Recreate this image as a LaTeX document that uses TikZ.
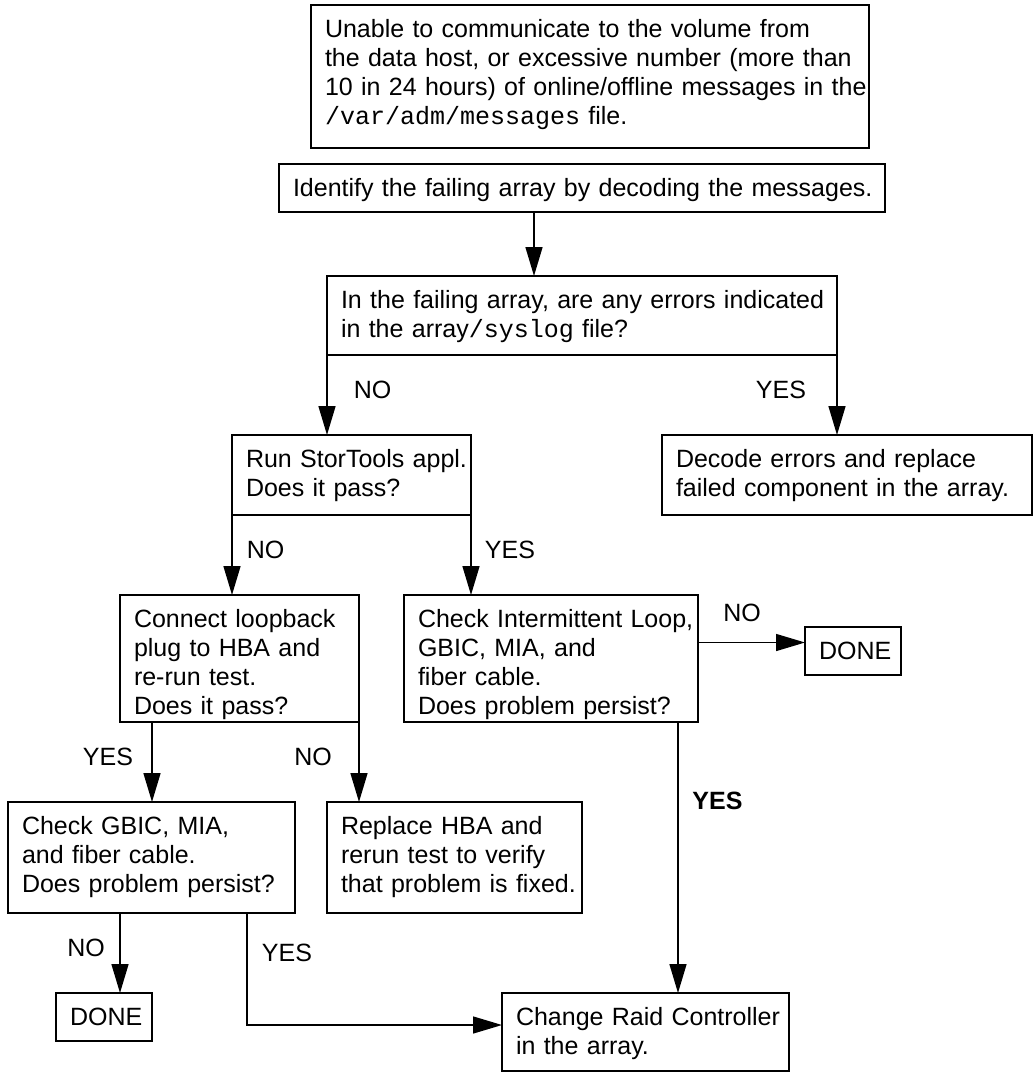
\documentclass[tikz,border=0pt]{standalone}
\usepackage{fontspec}
\setmainfont{Liberation Sans}
\setmonofont{Liberation Mono}
\usetikzlibrary{arrows.meta}

\begin{document}
\begin{tikzpicture}[
			x=1pt, y=-1pt,
			>={Triangle[length=29pt,width=17pt]},
			line width=1.5pt,
			stepbox/.style={
				draw,
				anchor=north west,
				outer sep=0pt,
				inner xsep=0pt,
				inner ysep=14pt,
				text height=18pt,
				align=left,
				font=\fontsize{25}{29}\selectfont,
				execute at begin node={\leftskip=14pt\rightskip=0pt plus 1fil minus 12pt}
			},
			answer/.style={
				inner sep=0pt,
				font=\fontsize{25}{29}\selectfont
			}
			]
			
			\useasboundingbox (0,0) rectangle (1034,1072);
			
			%%%%%%%%%%%%%%%%%%%%%%%%%%%%%%%%%%%%%%%%%%%%%%%%%%%%%%%%%%%%
			% Symptom
			%%%%%%%%%%%%%%%%%%%%%%%%%%%%%%%%%%%%%%%%%%%%%%%%%%%%%%%%%%%%
			
			\node[stepbox, text width=558pt, text depth=97pt] (alert) at (311,5)
			{Unable to communicate to the volume from\\
			 the data host, or excessive number (more than\\
			 10 in 24 hours) of online/offline messages in the\\
			 \texttt{/var/adm/messages} file.};
			
			\node[stepbox, text width=606pt, text depth=2pt] (ident) at (279,164)
			{Identify the failing array by decoding the messages.};
			
			\node[stepbox, text width=510pt, text depth=33pt] (cond) at (327,276)
			{In the failing array, are any errors indicated\\
			 in the array\texttt{/syslog} file?};
			
			%%%%%%%%%%%%%%%%%%%%%%%%%%%%%%%%%%%%%%%%%%%%%%%%%%%%%%%%%%%%
			% Tests
			%%%%%%%%%%%%%%%%%%%%%%%%%%%%%%%%%%%%%%%%%%%%%%%%%%%%%%%%%%%%
			
			\node[stepbox, text width=239pt, text depth=34pt] (stortools) at (232,435)
			{Run StorTools appl.\\
			 Does it pass?};
			
			\node[stepbox, text width=370pt, text depth=34pt] (decode) at (662,435)
			{Decode errors and replace\\
			 failed component in the array.};
			
			\node[stepbox, text width=239pt, text depth=81pt] (loopback) at (120,595)
			{Connect loopback\\
			 plug to HBA and\\
			 re-run test.\\
			 Does it pass?};
			
			\node[stepbox, text width=294pt, text depth=81pt] (chkloop) at (404,595)
			{Check Intermittent Loop,\\
			 GBIC, MIA, and\\
			 fiber cable.\\
			 Does problem persist?};
			
			\node[stepbox, text width=96pt, text depth=2pt] (doneR) at (805,627)
			{DONE};
			
			%%%%%%%%%%%%%%%%%%%%%%%%%%%%%%%%%%%%%%%%%%%%%%%%%%%%%%%%%%%%
			% Repair
			%%%%%%%%%%%%%%%%%%%%%%%%%%%%%%%%%%%%%%%%%%%%%%%%%%%%%%%%%%%%
			
			\node[stepbox, text width=287pt, text depth=65pt] (chkgbic) at (8,802)
			{Check GBIC, MIA,\\
			 and fiber cable.\\
			 Does problem persist?};
			
			\node[stepbox, text width=255pt, text depth=65pt] (replace) at (327,802)
			{Replace HBA and\\
			 rerun test to verify\\
			 that problem is fixed.};
			
			\node[stepbox, text width=96pt, text depth=2pt] (doneL) at (56,993)
			{DONE};
			
			\node[stepbox, text width=287pt, text depth=32pt] (raid) at (502,993)
			{Change Raid Controller\\
			 in the array.};
			
			%%%%%%%%%%%%%%%%%%%%%%%%%%%%%%%%%%%%%%%%%%%%%%%%%%%%%%%%%%%%
			% Connections
			%%%%%%%%%%%%%%%%%%%%%%%%%%%%%%%%%%%%%%%%%%%%%%%%%%%%%%%%%%%%
			
			\draw[->] ([xshift=-48pt]ident.south) -- ([xshift=-48pt]ident.south |- cond.north);
			
			% syslog check
			
			\draw[->] (cond.south west) -- (cond.south west |- stortools.north);
			
			\draw[->] (cond.south east) -- (cond.south east |- decode.north);
			
			% StorTools
			
			\draw[->] (stortools.south west) -- (stortools.south west |- loopback.north);
			
			\draw[->] (stortools.south east) -- (stortools.south east |- chkloop.north);
			
			% intermittent loop
			
			\draw[->] ([yshift=16pt]chkloop.east) -- ([yshift=16pt]chkloop.east -| doneR.west);
			
			\draw[->] ([xshift=-20pt]chkloop.south east) -- ([xshift=-20pt]chkloop.south east |- raid.north);
			
			% loopback
			
			\draw[->] ([xshift=32pt]loopback.south west) -- ([xshift=32pt]loopback.south west |- chkgbic.north);
			
			\draw[->] (loopback.south east) -- (loopback.south east |- replace.north);
			
			% GBIC
			
			\draw[->] ([xshift=112pt]chkgbic.south west) -- ([xshift=112pt]chkgbic.south west |- doneL.north);
			
			\draw[->] ([xshift=-48pt]chkgbic.south east) |- ([yshift=7pt]raid.west);
			
			%%%%%%%%%%%%%%%%%%%%%%%%%%%%%%%%%%%%%%%%%%%%%%%%%%%%%%%%%%%%
			% Answers
			%%%%%%%%%%%%%%%%%%%%%%%%%%%%%%%%%%%%%%%%%%%%%%%%%%%%%%%%%%%%
			
			\node[answer] (no1) at (372.5,390) {NO};
			\node[answer] (yes1) at (781,390) {YES};
			\node[answer] (no2) at (265.5,550) {NO};
			\node[answer] (yes2) at (510,550) {YES};
			\node[answer] (no3) at (742,613) {NO};
			\node[answer, font=\fontsize{25}{29}\selectfont\bfseries] (yes3) at (717.5,801) {YES};
			\node[answer] (yes4) at (108,757) {YES};
			\node[answer] (no4) at (313,757) {NO};
			\node[answer] (no5) at (86,948) {NO};
			\node[answer] (yes5) at (287,953) {YES};
			
		\end{tikzpicture}
\end{document}
